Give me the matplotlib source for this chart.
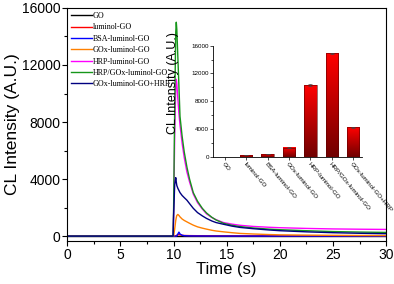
import numpy as np
import matplotlib
matplotlib.use('Agg')
import matplotlib.pyplot as plt
from matplotlib.colors import LinearSegmentedColormap
from matplotlib.ticker import MultipleLocator

plt.rcParams['font.family'] = ['Liberation Sans', 'DejaVu Sans']

# time axis (s) of the CL traces
t = [0, 9.95, 10.0, 10.1, 10.2, 10.25, 10.3, 10.4, 10.5, 10.6, 10.8, 11.0, 11.25, 11.5,
     11.85, 12.25, 12.7, 13.1, 13.6, 14.0, 14.7, 15.5, 16.25, 17.5, 19, 20, 22.5, 25, 27.5, 30]

go = [0] * len(t)
luminol_go = [0, 0, 0, 0, 20, 40, 60, 90, 110, 90, 60, 45, 40, 35,
              32, 30, 28, 26, 25, 24, 22, 21, 20, 20, 20, 20, 20, 20, 20, 20]
bsa_luminol_go = [0, 0, 0, 0, 0, 0, 20, 150, 280, 150, 60, 30, 20, 15,
                  12, 10, 10, 8, 8, 6, 6, 5, 5, 5, 5, 5, 5, 5, 5, 5]
gox_luminol_go = [0, 0, 0, 500, 1100, 1300, 1450, 1520, 1450, 1350, 1200, 1100, 1000, 900,
                  770, 650, 560, 490, 410, 360, 300, 240, 190, 150, 110, 90, 70, 55, 45, 40]
hrp_luminol_go = [0, 0, 1500, 7000, 10500, 11000, 10700, 9600, 8600, 7800, 6500, 5500, 4500, 3800,
                  2950, 2350, 1900, 1560, 1300, 1150, 950, 840, 760, 680, 620, 590, 540, 505, 485, 470]
hrp_gox_luminol_go = [0, 0, 2000, 9000, 14300, 15000, 14500, 12500, 10500, 8400, 7000, 5900, 4850, 4000,
                      3050, 2450, 1950, 1620, 1320, 1130, 900, 760, 670, 570, 490, 450, 380, 320, 285, 260]
gox_luminol_go_hrp = [0, 0, 1500, 3600, 4100, 3800, 3550, 3350, 3200, 3050, 2850, 2700, 2520, 2280,
                      1950, 1650, 1420, 1240, 1060, 950, 830, 700, 610, 520, 430, 380, 300, 240, 200, 170]

series_labels = ['GO', 'luminol-GO', 'BSA-luminol-GO', 'GOx-luminol-GO', 'HRP-luminol-GO',
                 'HRP/GOx-luminol-GO', 'GOx-luminol-GO+HRP']
series_values = [go, luminol_go, bsa_luminol_go, gox_luminol_go, hrp_luminol_go,
                 hrp_gox_luminol_go, gox_luminol_go_hrp]
series_colors = ['black', '#ff0000', '#0000ff', '#ff8000', '#ff00ff', '#16961a', '#000080']

# inset bar chart
bar_labels = series_labels
bar_values = [0, 240, 380, 1300, 10330, 14900, 4280]
bar_errors = [0, 30, 40, 60, 90, 110, 70]

fig = plt.figure(figsize=(3.94, 2.84), dpi=100)
ax = fig.add_axes([0.171, 0.151, 0.809, 0.821])

for lab, vals, col in zip(series_labels, series_values, series_colors):
    ax.plot(t, vals, color=col, lw=1.0, label=lab)

ax.set_xlim(0, 30)
ax.set_ylim(-350, 16000)
ax.xaxis.set_major_locator(MultipleLocator(5))
ax.xaxis.set_minor_locator(MultipleLocator(2.5))
ax.yaxis.set_major_locator(MultipleLocator(4000))
ax.yaxis.set_minor_locator(MultipleLocator(2000))
ax.tick_params(which='both', direction='out', top=False, right=False, labelsize=10, pad=1.5)
ax.tick_params(which='major', length=3.5, width=0.8)
ax.tick_params(which='minor', length=2, width=0.8)
ax.set_xlabel('Time (s)', fontsize=12, labelpad=0)
ax.set_ylabel('CL Intensity (A.U.)', fontsize=12.5, labelpad=1)

leg = ax.legend(loc='upper left', bbox_to_anchor=(0.0, 1.0), frameon=False,
                prop={'family': 'Liberation Serif', 'size': 5.8},
                handlelength=2.5, handletextpad=0.15, labelspacing=0.42,
                borderaxespad=0.2, borderpad=0.3)

# ---------------- inset ----------------
ins = fig.add_axes([0.541, 0.448, 0.377, 0.391])
x = np.arange(len(bar_values))
w = 0.58
cmap = LinearSegmentedColormap.from_list('redgrad', ['#700000', '#ff0000'])
grad = np.linspace(0, 1, 100).reshape(-1, 1)
for xi, v in zip(x, bar_values):
    if v > 0:
        ins.imshow(grad, cmap=cmap, aspect='auto', origin='lower',
                   extent=[xi - w / 2, xi + w / 2, 0, v], zorder=1)
ins.bar(x, bar_values, w, color='none', edgecolor='#5a0000', linewidth=0.4, zorder=2)
ins.errorbar(x[1:], bar_values[1:], yerr=bar_errors[1:], fmt='none', ecolor='#444444',
             elinewidth=0.5, capsize=1.2, capthick=0.5, zorder=3)
ins.set_xlim(-0.55, 6.4)
ins.set_ylim(0, 16000)
ins.spines['top'].set_visible(False)
ins.spines['right'].set_visible(False)
ins.spines['left'].set_linewidth(0.6)
ins.spines['bottom'].set_linewidth(0.6)
ins.set_xticks(x)
ins.set_xticklabels(bar_labels, rotation=-50, ha='left', rotation_mode='anchor', fontsize=3.3)
ins.yaxis.set_major_locator(MultipleLocator(4000))
ins.yaxis.set_minor_locator(MultipleLocator(2000))
ins.tick_params(which='both', direction='out', labelsize=4.5, width=0.5, pad=1)
ins.tick_params(which='major', length=2)
ins.tick_params(which='minor', length=1.2)
ins.set_ylabel('CL Intensity (A.U.)', fontsize=9)
ins.yaxis.set_label_coords(-0.23, 0.66)
ins.patch.set_alpha(0)

fig.savefig('out.png', dpi=100)
